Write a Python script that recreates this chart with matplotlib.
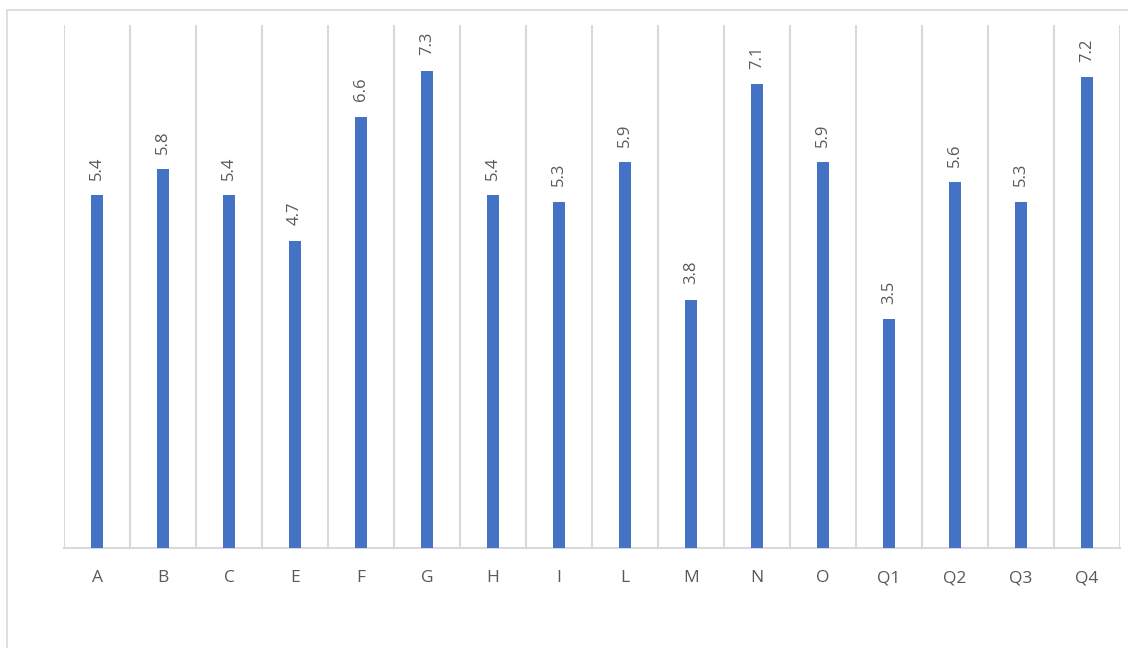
import matplotlib.pyplot as plt
from matplotlib.patches import Rectangle

categories = ["A", "B", "C", "E", "F", "G", "H", "I", "L", "M", "N", "O", "Q1", "Q2", "Q3", "Q4"]
values = [5.4, 5.8, 5.4, 4.7, 6.6, 7.3, 5.4, 5.3, 5.9, 3.8, 7.1, 5.9, 3.5, 5.6, 5.3, 7.2]


def main() -> None:
    plt.rcParams["font.family"] = ["Open Sans", "DejaVu Sans"]
    grid_color = "#D9D9D9"
    text_color = "#595959"

    fig = plt.figure(figsize=(11.28, 6.48), dpi=100)
    ax = fig.add_axes([64 / 1128, 100 / 648, 1056 / 1128, 523 / 648])

    x = list(range(len(categories)))
    ax.bar(x, values, width=0.18, color="#4472C4", zorder=3)

    for xi, v in zip(x, values):
        ax.annotate(f"{v:.1f}", (xi, v), xytext=(0, 11), textcoords="offset points",
                    rotation=90, ha="center", va="bottom", fontsize=12, color=text_color)

    for b in range(len(categories) + 1):
        ax.axvline(b - 0.5, color=grid_color, linewidth=1.5, zorder=1)

    ax.set_xlim(-0.5, len(categories) - 0.5)
    ax.set_ylim(0, 8)
    ax.set_xticks(x)
    ax.set_xticklabels(categories, fontsize=12.5, color=text_color)
    ax.tick_params(axis="x", length=0, pad=16)
    ax.set_yticks([])
    for side in ["top", "right", "left"]:
        ax.spines[side].set_visible(False)
    ax.spines["bottom"].set_color(grid_color)
    ax.spines["bottom"].set_linewidth(1.5)

    fig.patches.append(Rectangle((7 / 1128, -0.1), 1.2, (638 / 648) + 0.1,
                                 transform=fig.transFigure, fill=False,
                                 edgecolor=grid_color, linewidth=1.2))

    fig.savefig("out.png", dpi=100)
    plt.close(fig)


if __name__ == "__main__":
    main()
